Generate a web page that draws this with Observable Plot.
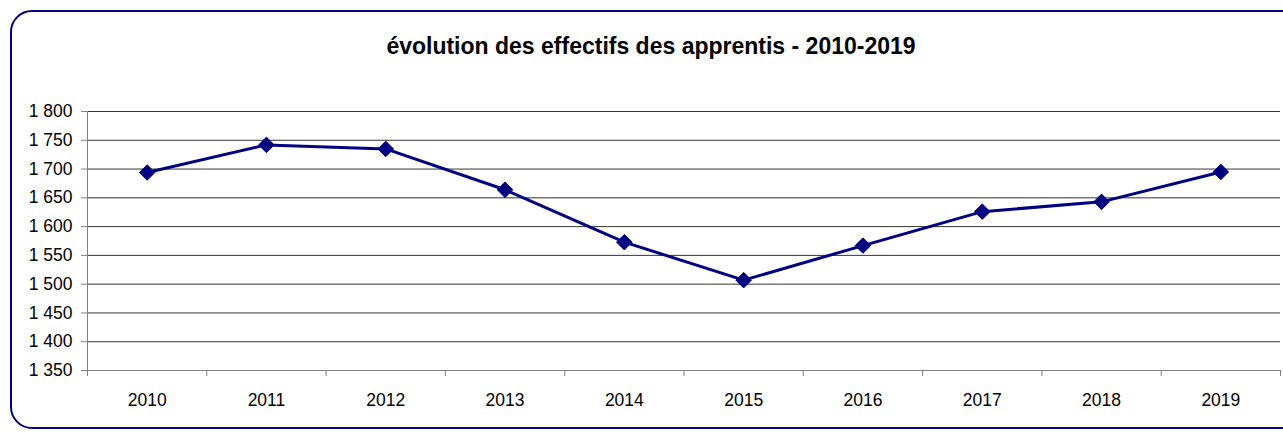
<!DOCTYPE html>
<html>
<head>
<meta charset="utf-8">
<script src="https://cdn.jsdelivr.net/npm/d3@7"></script>
<script src="https://cdn.jsdelivr.net/npm/@observablehq/plot@0.6"></script>
<style>
  html, body { margin: 0; padding: 0; background: #fff; }
  #wrap { position: relative; width: 1283px; height: 432px; overflow: hidden; font-family: "Liberation Sans", Arial, sans-serif; }
  #frame { position: absolute; left: 10px; top: 10px; width: 1300px; height: 419px; border: 2px solid #000080; border-radius: 22px; box-sizing: border-box; }
  #title { position: absolute; left: 0; width: 1302px; top: 32px; text-align: center; font-weight: bold; font-size: 23px; line-height: 28px; color: #000; }
  #chart { position: absolute; left: 0; top: 0; }
</style>
</head>
<body>
<div id="wrap">
  <div id="frame"></div>
  <div id="title">évolution des effectifs des apprentis - 2010-2019</div>
  <div id="chart"></div>
</div>
<script>
const years = [2010, 2011, 2012, 2013, 2014, 2015, 2016, 2017, 2018, 2019];
const apprentis = [1694, 1742, 1735, 1664, 1573, 1507, 1567, 1626, 1643, 1695];
const yTicks = [1350, 1400, 1450, 1500, 1550, 1600, 1650, 1700, 1750, 1800];

const data = years.map((y, i) => ({ year: y, value: apprentis[i] }));
const bounds = years.map(y => y - 0.5).concat([years[years.length - 1] + 0.5]);
const fmt = d3.formatLocale({ decimal: ",", thousands: " ", grouping: [3], currency: ["", " €"] }).format(",");

const chart = Plot.plot({
  width: 1283,
  height: 432,
  marginLeft: 87,
  marginRight: 3,
  marginTop: 111,
  marginBottom: 62,
  style: { fontFamily: "'Liberation Sans', Arial, sans-serif", fontSize: "17.5px", background: "transparent" },
  x: { type: "linear", domain: [bounds[0], bounds[bounds.length - 1]] },
  y: { domain: [yTicks[0], yTicks[yTicks.length - 1]] },
  marks: [
    Plot.gridY(yTicks.slice(1), { stroke: "#000", strokeOpacity: 0.8 }),
    Plot.ruleY([yTicks[0]], { stroke: "#808080" }),
    Plot.ruleX([bounds[0]], { stroke: "#808080" }),
    Plot.axisY(yTicks, { tickSize: 6, tickPadding: 9, tickFormat: fmt, fontSize: 17.5, stroke: "#808080", fill: "#000", label: null }),
    Plot.axisX(bounds, { tickSize: 6, tickFormat: () => "", stroke: "#808080", label: null }),
    Plot.axisX(years, { tickSize: 0, tickPadding: 23, tickFormat: d => String(d), fontSize: 17.5, fill: "#000", label: null }),
    Plot.line(data, { x: "year", y: "value", stroke: "#000080", strokeWidth: 3 }),
    Plot.dot(data, { x: "year", y: "value", symbol: "diamond2", r: 7, fill: "#000080", stroke: "#000080", strokeWidth: 1 })
  ]
});
document.getElementById("chart").appendChild(chart);
</script>
</body>
</html>
